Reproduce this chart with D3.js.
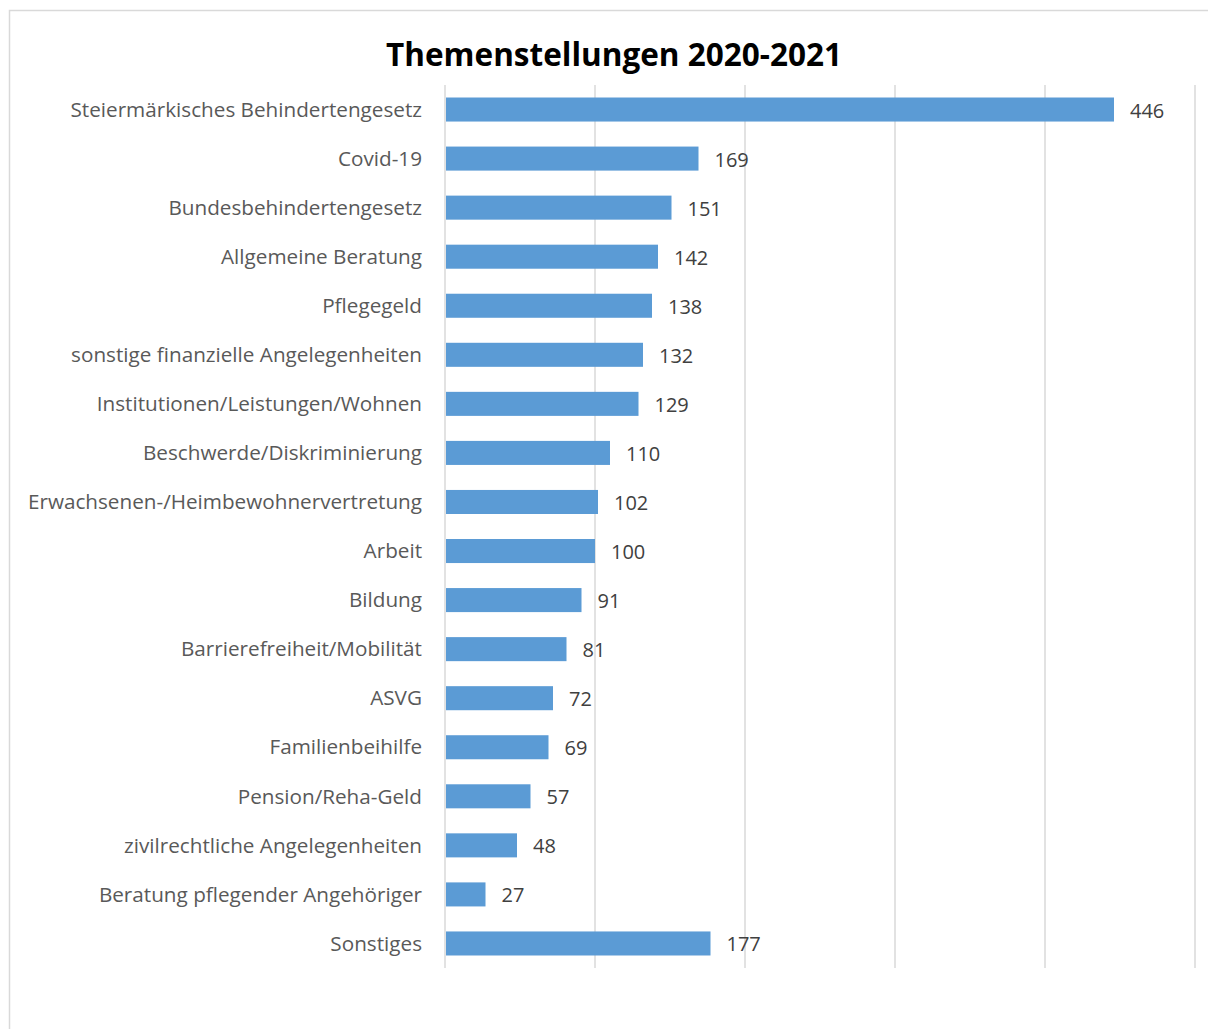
<!DOCTYPE html>
<html>
<head>
<meta charset="utf-8">
<script src="https://cdn.jsdelivr.net/npm/d3@7"></script>
<style>
  body { margin: 0; background: #fff; }
  svg { display: block; }
</style>
</head>
<body>
<svg width="1208" height="1029"></svg>
<script>
const categories = [
  "Steiermärkisches Behindertengesetz",
  "Covid-19",
  "Bundesbehindertengesetz",
  "Allgemeine Beratung",
  "Pflegegeld",
  "sonstige finanzielle Angelegenheiten",
  "Institutionen/Leistungen/Wohnen",
  "Beschwerde/Diskriminierung",
  "Erwachsenen-/Heimbewohnervertretung",
  "Arbeit",
  "Bildung",
  "Barrierefreiheit/Mobilität",
  "ASVG",
  "Familienbeihilfe",
  "Pension/Reha-Geld",
  "zivilrechtliche Angelegenheiten",
  "Beratung pflegender Angehöriger",
  "Sonstiges"
];
const values = [446, 169, 151, 142, 138, 132, 129, 110, 102, 100, 91, 81, 72, 69, 57, 48, 27, 177];
const xTicks = [0, 100, 200, 300, 400, 500];
const title = "Themenstellungen 2020-2021";

const svg = d3.select("svg");
const font = "'Open Sans', sans-serif";

// chart frame
svg.append("rect")
  .attr("x", 9.5).attr("y", 10.5)
  .attr("width", 1250).attr("height", 1100)
  .attr("fill", "none")
  .attr("stroke", "#d9d9d9")
  .attr("stroke-width", 1.5);

const x = d3.scaleLinear().domain([0, 500]).range([445, 1195]);
const y = d3.scaleBand().domain(categories).range([85, 968]).paddingInner(0.51).paddingOuter(0.255);

// gridlines
svg.append("g")
  .selectAll("line")
  .data(xTicks)
  .join("line")
  .attr("x1", d => x(d)).attr("x2", d => x(d))
  .attr("y1", 85).attr("y2", 968)
  .attr("stroke", "#d9d9d9")
  .attr("stroke-width", 1.5);

svg.append("text")
  .attr("x", 614).attr("y", 66)
  .attr("text-anchor", "middle")
  .attr("font-family", font)
  .attr("font-weight", "bold")
  .attr("font-size", 31.5)
  .attr("fill", "#000")
  .text(title);

const data = categories.map((c, i) => ({ cat: c, val: values[i] }));

svg.append("g")
  .selectAll("rect")
  .data(data)
  .join("rect")
  .attr("x", x(0) + 1)
  .attr("y", d => y(d.cat))
  .attr("width", d => x(d.val) - x(0) - 1)
  .attr("height", y.bandwidth())
  .attr("fill", "#5b9bd5");

// category labels
svg.append("g")
  .selectAll("text")
  .data(data)
  .join("text")
  .attr("x", 422)
  .attr("y", d => y(d.cat) + y.bandwidth() / 2)
  .attr("dy", "0.35em")
  .attr("text-anchor", "end")
  .attr("font-family", font)
  .attr("font-size", 20.7)
  .attr("fill", "#595959")
  .text(d => d.cat);

// value labels
svg.append("g")
  .selectAll("text")
  .data(data)
  .join("text")
  .attr("x", d => x(d.val) + 16)
  .attr("y", d => y(d.cat) + y.bandwidth() / 2)
  .attr("dy", "0.4em")
  .attr("font-family", font)
  .attr("font-size", 20)
  .attr("fill", "#404040")
  .text(d => d.val);
</script>
</body>
</html>
